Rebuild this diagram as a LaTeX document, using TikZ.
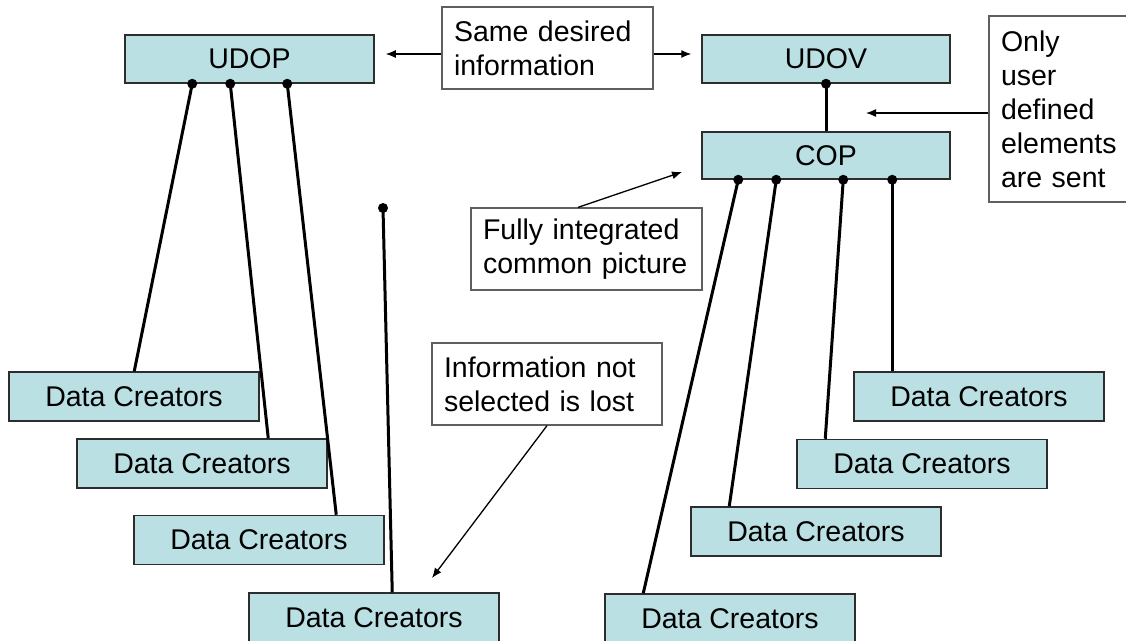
\documentclass[tikz,border=0pt]{standalone}
\usepackage{fontspec}
\setmainfont{Liberation Sans}
\usetikzlibrary{arrows.meta,positioning,calc}
\definecolor{pale}{RGB}{186,224,227}
\definecolor{rim}{RGB}{45,45,45}
\definecolor{noterim}{RGB}{95,95,95}
\tikzset{
  >={Latex[length=10pt,width=8pt]},
  view/.style={draw=rim,fill=pale,line width=1.5pt,minimum width=#1,minimum height=48pt,
    inner sep=0pt,font=\fontsize{28.5}{34}\selectfont},
  view/.default=249pt,
  creator/.style={view=250pt,minimum height=49pt},
  note/.style={draw=noterim,fill=white,line width=1.3pt,text width=#1,align=left,
    inner xsep=12pt,inner ysep=0pt,font=\fontsize{28.5}{34}\selectfont},
  hint/.style={->,line width=1.3pt,draw=black},
  feed/.style={line width=3pt,draw=black},
}
\begin{document}
\begin{tikzpicture}[x=1pt,y=-1pt]
  \useasboundingbox (0,0) rectangle (1126,640);
  % views
  \node[view] (udop) at (249.5,59) {UDOP};
  \node[view=248pt] (udov) at (826,59) {UDOV};
  \node[view=248pt,minimum height=47pt] (cop) at (826,155.5) {COP};
  % notes
  \node[note=187pt,minimum height=82pt] (same) at (547.5,48) {Same desired\\information};
  \node[note=127pt,minimum height=186pt] (only) at (1064.5,109) {Only\\user\\defined\\elements\\are sent};
  \node[note=207pt,minimum height=82pt] (fully) at (586.5,249) {Fully integrated\\common picture};
  \node[note=206pt,minimum height=82pt] (lost) at (547,384) {Information not\\selected is lost};
  % data creators
  \foreach \n/\x/\y in {a/134/396.5,b/202/463.5,c/259/540,d/374/617.5,
                        e/979/396.5,f/922/464,g/816/531.5,h/730/618.5}
    \node[creator] (dc\n) at (\x,\y) {Data Creators};
  % feeds
  \foreach \s/\d/\t in {68/a/126,106/b/192,163/c/203}{
    \draw[feed] ([xshift=\s pt]udop.south west) -- ([xshift=\t pt]dc\d.north west);
    \fill ([xshift=\s pt]udop.south west) circle (5pt);
  }
  \foreach \s/\d/\t in {37/h/39,75/g/39,142/f/29,191/e/39}{
    \draw[feed] ([xshift=\s pt]cop.south west) -- ([xshift=\t pt]dc\d.north west);
    \fill ([xshift=\s pt]cop.south west) circle (5pt);
  }
  \coordinate (loose) at (383,208);
  \draw[feed] (loose) -- ([xshift=144pt]dcd.north west);
  \fill (loose) circle (5pt);
  \draw[feed] (udov.south) -- (cop.north);
  \fill (udov.south) circle (5pt);
  % hints
  \coordinate (sameleft) at ([yshift=-6pt]same.west);
  \coordinate (sameright) at ([yshift=-6pt]same.east);
  \coordinate (onlyleft) at ([yshift=-4pt]only.west);
  \coordinate (fullytip) at (682,172);
  \coordinate (losttip) at (432,578);
  \draw[hint,shorten >=11pt] (sameleft) -- (sameleft -| udop.east);
  \draw[hint,shorten >=10pt] (sameright) -- (sameright -| udov.west);
  \draw[hint,shorten >=40pt] (onlyleft) -- (onlyleft -| udov.south);
  \draw[hint] ([xshift=-8.5pt]fully.north) -- (fullytip);
  \draw[hint] (lost.south) -- (losttip);
\end{tikzpicture}
\end{document}
